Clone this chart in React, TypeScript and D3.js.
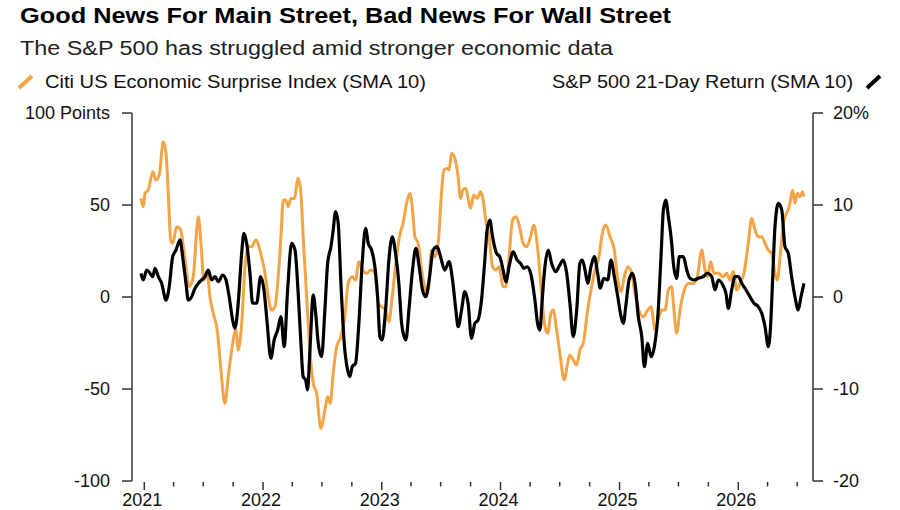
import React, { useRef, useEffect } from 'react';
import * as d3 from 'd3';

// Citi US Economic Surprise Index (SMA 10) (decimal years)
const citiDates = [
  2020.972, 2020.992, 2021.006, 2021.034, 2021.071, 2021.098, 2021.126, 2021.16, 2021.183, 2021.202,
  2021.222, 2021.239, 2021.273, 2021.306, 2021.343, 2021.379, 2021.412, 2021.455, 2021.477, 2021.503,
  2021.53, 2021.553, 2021.581, 2021.614, 2021.643, 2021.679, 2021.707, 2021.736, 2021.772, 2021.791,
  2021.82, 2021.848, 2021.875, 2021.904, 2021.94, 2021.98, 2022.016, 2022.044, 2022.072, 2022.1,
  2022.128, 2022.151, 2022.17, 2022.19, 2022.212, 2022.235, 2022.263, 2022.296, 2022.319, 2022.338,
  2022.367, 2022.395, 2022.423, 2022.451, 2022.487, 2022.521, 2022.544, 2022.566, 2022.591, 2022.62,
  2022.656, 2022.689, 2022.717, 2022.751, 2022.779, 2022.807, 2022.835, 2022.872, 2022.908, 2022.942,
  2022.97, 2022.998, 2023.032, 2023.06, 2023.088, 2023.125, 2023.152, 2023.18, 2023.209, 2023.237,
  2023.259, 2023.279, 2023.306, 2023.335, 2023.371, 2023.391, 2023.419, 2023.447, 2023.475, 2023.503,
  2023.523, 2023.551, 2023.567, 2023.588, 2023.615, 2023.643, 2023.663, 2023.685, 2023.708, 2023.727,
  2023.747, 2023.775, 2023.803, 2023.832, 2023.854, 2023.876, 2023.904, 2023.933, 2023.96, 2023.988,
  2024.022, 2024.045, 2024.072, 2024.101, 2024.129, 2024.157, 2024.19, 2024.219, 2024.253, 2024.28,
  2024.308, 2024.345, 2024.373, 2024.396, 2024.423, 2024.443, 2024.471, 2024.499, 2024.535, 2024.564,
  2024.583, 2024.611, 2024.64, 2024.667, 2024.695, 2024.732, 2024.76, 2024.794, 2024.827, 2024.855,
  2024.884, 2024.92, 2024.956, 2024.985, 2025.013, 2025.04, 2025.069, 2025.103, 2025.13, 2025.173,
  2025.2, 2025.237, 2025.265, 2025.299, 2025.332, 2025.355, 2025.383, 2025.411, 2025.439, 2025.453,
  2025.481, 2025.509, 2025.537, 2025.579, 2025.621, 2025.655, 2025.692, 2025.72, 2025.739, 2025.768,
  2025.795, 2025.832, 2025.869, 2025.902, 2025.93, 2025.958, 2025.987, 2026.014, 2026.048, 2026.084,
  2026.113, 2026.141, 2026.168, 2026.197, 2026.225, 2026.253, 2026.281, 2026.309, 2026.328, 2026.357,
  2026.385, 2026.407, 2026.429, 2026.458, 2026.477, 2026.497, 2026.519, 2026.542, 2026.553,
];
const citiValues = [
  53.6, 49.1, 56.4, 58.2, 68.1, 63.6, 66.3, 84.4, 78.1, 56.4,
  31.0, 29.2, 38.2, 36.4, 20.1, 5.6, 11.0, 43.6, 29.2, 9.2,
  12.9, 0.2, -8.9, -17.9, -37.9, -57.8, -43.3, -28.8, -17.9, -28.8,
  -14.3, 16.5, 27.3, 27.3, 31.0, 23.8, 13.0, 0.2, -7.1, -5.3,
  11.0, 32.8, 52.7, 52.7, 49.1, 53.6, 53.6, 64.5, 56.4, 32.8,
  0.2, -28.8, -46.9, -52.3, -71.4, -61.4, -54.2, -57.8, -41.5, -27.0,
  -21.6, -10.7, 7.4, 11.0, 9.2, 19.2, 14.7, 12.9, 14.7, 12.9,
  -3.4, -5.3, -7.1, -13.4, 0.2, 21.9, 33.7, 40.1, 50.9, 56.4,
  47.3, 32.8, 29.2, 14.7, 3.8, 2.9, 25.5, 21.9, 29.2, 56.4,
  69.0, 69.9, 69.0, 78.1, 75.4, 65.4, 53.6, 58.2, 59.1, 53.6,
  48.2, 55.4, 53.6, 57.2, 52.7, 41.8, 32.8, 16.5, 14.7, 16.5,
  5.6, 5.6, 21.9, 41.8, 43.6, 39.1, 29.2, 27.3, 32.8, 39.1,
  29.0, 2.0, -16.1, -19.7, -8.9, -7.1, -17.9, -30.6, -45.1, -36.0,
  -31.5, -34.2, -37.0, -28.8, -25.2, -7.1, 3.8, 14.7, 21.9, 34.6,
  39.1, 32.8, 25.5, 9.2, 2.9, 11.0, 16.5, 12.9, 2.0, -8.9,
  -10.7, -7.1, -5.3, -17.9, -10.7, -7.1, -7.1, 3.8, 5.6, -3.4,
  -19.7, -7.1, 2.0, 7.4, 7.4, 11.0, 25.5, 14.7, 11.0, 19.2,
  12.9, 12.9, 11.0, 12.9, 9.2, 13.8, 3.8, 7.4, 12.9, 29.2,
  42.8, 36.4, 32.8, 32.8, 29.2, 25.5, 23.8, 12.9, 9.2, 25.5,
  41.8, 45.5, 49.1, 58.2, 50.9, 56.4, 54.5, 57.2, 54.5,
];

// S&P 500 21-Day Return (SMA 10), %
const spxDates = [
  2020.972, 2020.992, 2021.02, 2021.048, 2021.071, 2021.09, 2021.118, 2021.146, 2021.183, 2021.21,
  2021.239, 2021.267, 2021.301, 2021.323, 2021.351, 2021.37, 2021.399, 2021.427, 2021.455, 2021.483,
  2021.511, 2021.539, 2021.567, 2021.595, 2021.623, 2021.66, 2021.688, 2021.715, 2021.744, 2021.763,
  2021.791, 2021.82, 2021.839, 2021.862, 2021.89, 2021.912, 2021.946, 2021.98, 2022.008, 2022.035,
  2022.066, 2022.094, 2022.123, 2022.151, 2022.178, 2022.207, 2022.241, 2022.269, 2022.296, 2022.319,
  2022.338, 2022.359, 2022.375, 2022.395, 2022.423, 2022.443, 2022.465, 2022.493, 2022.521, 2022.544,
  2022.572, 2022.591, 2022.611, 2022.633, 2022.656, 2022.684, 2022.712, 2022.731, 2022.751, 2022.779,
  2022.807, 2022.835, 2022.864, 2022.886, 2022.914, 2022.942, 2022.965, 2022.984, 2023.003, 2023.032,
  2023.06, 2023.088, 2023.116, 2023.144, 2023.167, 2023.189, 2023.203, 2023.231, 2023.259, 2023.287,
  2023.315, 2023.343, 2023.371, 2023.399, 2023.433, 2023.466, 2023.495, 2023.531, 2023.567, 2023.596,
  2023.624, 2023.643, 2023.672, 2023.699, 2023.727, 2023.756, 2023.784, 2023.811, 2023.84, 2023.868,
  2023.887, 2023.91, 2023.933, 2023.966, 2023.994, 2024.022, 2024.045, 2024.072, 2024.106, 2024.14,
  2024.168, 2024.196, 2024.224, 2024.253, 2024.289, 2024.311, 2024.331, 2024.35, 2024.373, 2024.401,
  2024.429, 2024.463, 2024.491, 2024.527, 2024.556, 2024.583, 2024.611, 2024.64, 2024.667, 2024.687,
  2024.71, 2024.732, 2024.76, 2024.788, 2024.816, 2024.838, 2024.867, 2024.901, 2024.928, 2024.956,
  2024.985, 2025.013, 2025.032, 2025.052, 2025.08, 2025.108, 2025.13, 2025.158, 2025.187, 2025.209,
  2025.237, 2025.265, 2025.293, 2025.322, 2025.349, 2025.369, 2025.389, 2025.411, 2025.439, 2025.453,
  2025.481, 2025.503, 2025.537, 2025.566, 2025.593, 2025.627, 2025.663, 2025.705, 2025.739, 2025.776,
  2025.804, 2025.832, 2025.869, 2025.896, 2025.916, 2025.944, 2025.972, 2026.0, 2026.029, 2026.065,
  2026.098, 2026.132, 2026.168, 2026.197, 2026.225, 2026.253, 2026.273, 2026.29, 2026.309, 2026.337,
  2026.366, 2026.393, 2026.421, 2026.449, 2026.477, 2026.505, 2026.528, 2026.553,
];
const spxValues = [
  2.58, 1.85, 2.93, 2.58, 2.21, 3.12, 2.21, 1.49, -0.33, 1.12,
  4.38, 5.11, 6.2, 4.38, 1.49, -0.33, 0.03, 0.95, 1.49, 1.85,
  2.21, 2.93, 1.85, 2.21, 1.66, 2.39, 1.85, 0.03, -2.5, -3.4,
  -0.68, 4.75, 6.92, 5.84, 2.58, -0.68, -0.68, 2.21, 0.76, -2.86,
  -6.66, -4.67, -3.59, -2.14, -5.4, 0.76, 5.84, 5.11, 0.4, -5.03,
  -8.66, -9.02, -10.11, -5.76, 0.22, -1.77, -5.03, -6.49, -1.41, 3.66,
  5.47, 7.28, 9.27, 8.01, 1.49, -5.03, -7.93, -8.66, -7.58, -7.21,
  -2.86, 3.66, 7.47, 5.84, 5.11, 3.29, 0.03, -4.32, -4.67, -1.41,
  4.02, 6.55, 4.75, 1.49, -2.86, -4.32, -4.67, -1.05, 2.93, 5.29,
  3.29, 0.76, 0.03, 1.85, 5.11, 5.47, 4.38, 2.93, 3.84, 1.85,
  -1.41, -3.23, -1.41, 0.58, -0.68, -4.49, -2.86, -2.5, -0.33, 4.02,
  7.28, 8.37, 6.55, 4.75, 4.38, 2.93, 1.66, 3.29, 4.92, 4.02,
  3.66, 3.12, 3.29, 2.58, -0.33, -2.86, -3.59, -0.33, 3.29, 5.11,
  3.66, 2.75, 3.29, 4.02, 2.58, -0.68, -4.32, -1.41, 3.66, 4.02,
  2.93, 1.49, 3.29, 4.38, 2.58, 0.95, 2.03, 1.85, 4.02, 2.21,
  0.03, -2.14, -2.86, -1.05, 1.85, 2.58, 1.49, -2.14, -4.32, -7.58,
  -5.03, -6.49, -5.4, -2.14, 4.38, 9.46, 10.54, 8.73, 5.84, 3.66,
  2.03, 4.38, 4.38, 2.93, 2.03, 1.85, 2.03, 2.21, 2.58, 2.21,
  0.76, 1.85, 1.3, 0.4, -1.23, 0.76, 2.21, 2.21, 1.49, 0.76,
  0.03, -0.68, -1.05, -1.77, -3.23, -5.4, -2.86, 2.21, 7.64, 10.18,
  9.46, 5.47, 4.75, 2.21, 0.03, -1.41, 0.03, 1.49,
];

const leftTicks = [-100, -50, 0, 50, 100];
const rightTicks = [-20, -10, 0, 10, 20];
const yearLabels = [2021, 2022, 2023, 2024, 2025, 2026];

const FONT = "'Liberation Sans', Arial, Helvetica, sans-serif";
const ORANGE = '#f2a446';

const toDate = (y: number) => {
  const yr = Math.floor(y);
  const start = new Date(yr, 0, 1).getTime();
  const end = new Date(yr + 1, 0, 1).getTime();
  return new Date(start + (y - yr) * (end - start));
};

const Chart: React.FC = () => {
  const svgRef = useRef<SVGSVGElement>(null);

  useEffect(() => {
    if (!svgRef.current) return;
    const svg = d3.select(svgRef.current);
    svg.selectAll('*').remove();

    const left = 132;
    const right = 813;
    const top = 113;
    const bottom = 481;

    const x = d3
      .scaleTime()
      .domain([new Date(2021, 0, 1), new Date(2026, 0, 1)])
      .range([144.3, 738.3]);
    const yL = d3.scaleLinear().domain([-100, 100]).range([bottom, top]);
    const yR = d3.scaleLinear().domain([-20, 20]).range([bottom, top]);

    // Titles
    svg
      .append('text')
      .attr('x', 20)
      .attr('y', 23)
      .attr('font-family', FONT)
      .attr('font-weight', 'bold')
      .attr('font-size', 21.5)
      .attr('textLength', 651)
      .attr('lengthAdjust', 'spacingAndGlyphs')
      .attr('fill', '#000')
      .text('Good News For Main Street, Bad News For Wall Street');

    svg
      .append('text')
      .attr('x', 20)
      .attr('y', 55)
      .attr('font-family', FONT)
      .attr('font-size', 20)
      .attr('textLength', 593)
      .attr('lengthAdjust', 'spacingAndGlyphs')
      .attr('fill', '#222')
      .text('The S&P 500 has struggled amid stronger economic data');

    // Legend
    svg
      .append('line')
      .attr('x1', 19)
      .attr('y1', 88)
      .attr('x2', 32)
      .attr('y2', 76)
      .attr('stroke', ORANGE)
      .attr('stroke-width', 4);
    svg
      .append('text')
      .attr('x', 45)
      .attr('y', 87.5)
      .attr('font-family', FONT)
      .attr('font-size', 18)
      .attr('textLength', 381)
      .attr('lengthAdjust', 'spacingAndGlyphs')
      .attr('fill', '#111')
      .text('Citi US Economic Surprise Index (SMA 10)');
    svg
      .append('text')
      .attr('x', 552)
      .attr('y', 87.5)
      .attr('font-family', FONT)
      .attr('font-size', 18)
      .attr('textLength', 301)
      .attr('lengthAdjust', 'spacingAndGlyphs')
      .attr('fill', '#111')
      .text('S&P 500 21-Day Return (SMA 10)');
    svg
      .append('line')
      .attr('x1', 867)
      .attr('y1', 88)
      .attr('x2', 880)
      .attr('y2', 76)
      .attr('stroke', '#000')
      .attr('stroke-width', 4);

    const axisColor = '#333';

    // Left axis
    svg
      .append('line')
      .attr('x1', left)
      .attr('x2', left)
      .attr('y1', top)
      .attr('y2', bottom)
      .attr('stroke', axisColor)
      .attr('stroke-width', 1.5);
    const lt = svg.append('g').selectAll('g').data(leftTicks).enter().append('g');
    lt.append('line')
      .attr('x1', left - 10)
      .attr('x2', left)
      .attr('y1', (d) => yL(d))
      .attr('y2', (d) => yL(d))
      .attr('stroke', axisColor)
      .attr('stroke-width', 1.5);
    lt.append('text')
      .attr('x', left - 22)
      .attr('y', (d) => yL(d) + 6)
      .attr('text-anchor', 'end')
      .attr('font-family', FONT)
      .attr('font-size', 18)
      .attr('fill', '#111')
      .text((d) => (d === 100 ? '100 Points' : String(d)));

    // Right axis
    svg
      .append('line')
      .attr('x1', right)
      .attr('x2', right)
      .attr('y1', top)
      .attr('y2', bottom)
      .attr('stroke', axisColor)
      .attr('stroke-width', 1.5);
    const rt = svg.append('g').selectAll('g').data(rightTicks).enter().append('g');
    rt.append('line')
      .attr('x1', right)
      .attr('x2', right + 10)
      .attr('y1', (d) => yR(d))
      .attr('y2', (d) => yR(d))
      .attr('stroke', axisColor)
      .attr('stroke-width', 1.5);
    rt.append('text')
      .attr('x', right + 20)
      .attr('y', (d) => yR(d) + 6)
      .attr('font-family', FONT)
      .attr('font-size', 18)
      .attr('fill', '#111')
      .text((d) => (d === 20 ? '20%' : String(d)));

    // Bottom ticks (quarterly, labelled yearly)
    const quarters = d3.timeMonth.every(3)!.range(new Date(2021, 0, 1), new Date(2026, 7, 1));
    svg
      .append('g')
      .selectAll('line')
      .data(quarters)
      .enter()
      .append('line')
      .attr('x1', (d) => x(d))
      .attr('x2', (d) => x(d))
      .attr('y1', bottom + 1)
      .attr('y2', (d) => (d.getMonth() === 0 ? bottom + 9 : bottom + 5.5))
      .attr('stroke', axisColor)
      .attr('stroke-width', 1.5);
    svg
      .append('g')
      .selectAll('text')
      .data(yearLabels)
      .enter()
      .append('text')
      .attr('x', (d) => x(new Date(d, 0, 1)) - 2)
      .attr('y', 505.5)
      .attr('text-anchor', 'middle')
      .attr('font-family', FONT)
      .attr('font-size', 18)
      .attr('fill', '#111')
      .text((d) => String(d));

    // Lines
    const citi = citiDates.map((d, i) => ({ date: toDate(d), value: citiValues[i] }));
    const spx = spxDates.map((d, i) => ({ date: toDate(d), value: spxValues[i] }));

    const citiLine = d3
      .line<{ date: Date; value: number }>()
      .x((d) => x(d.date))
      .y((d) => yL(d.value))
      .curve(d3.curveMonotoneX);
    const spxLine = d3
      .line<{ date: Date; value: number }>()
      .x((d) => x(d.date))
      .y((d) => yR(d.value))
      .curve(d3.curveMonotoneX);

    svg
      .append('path')
      .datum(citi)
      .attr('fill', 'none')
      .attr('stroke', ORANGE)
      .attr('stroke-width', 3)
      .attr('stroke-linejoin', 'round')
      .attr('d', citiLine);

    svg
      .append('path')
      .datum(spx)
      .attr('fill', 'none')
      .attr('stroke', '#000')
      .attr('stroke-width', 3.2)
      .attr('stroke-linejoin', 'round')
      .attr('d', spxLine);
  }, []);

  return (
    <svg
      ref={svgRef}
      width={900}
      height={510}
      style={{ position: 'absolute', left: 0, top: 0, background: '#fff' }}
    ></svg>
  );
};

export default function App() {
  return <Chart />;
}
